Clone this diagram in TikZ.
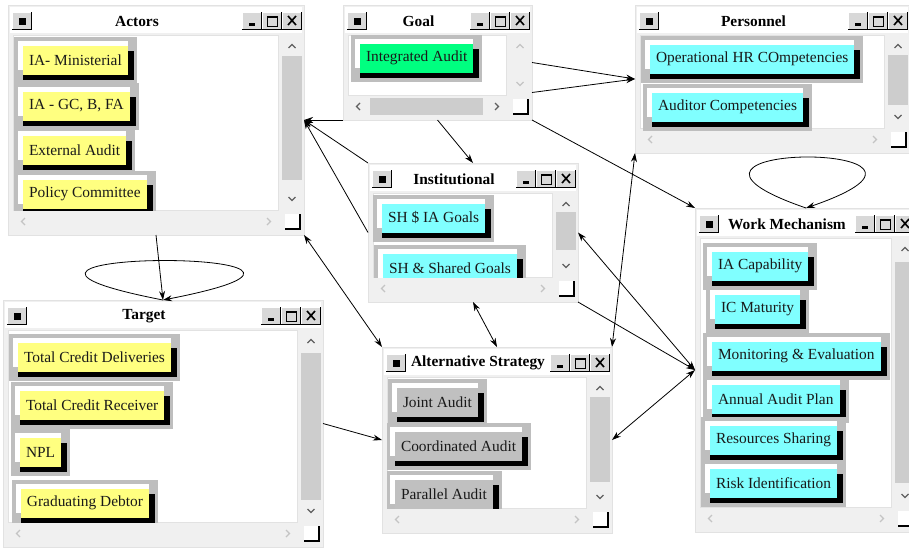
\documentclass[tikz,border=0pt]{standalone}
\usepackage{fontspec}
\setmainfont{Liberation Serif}
\usetikzlibrary{arrows.meta,calc}
\definecolor{btnyellow}{HTML}{FFFF80}
\definecolor{btncyan}{HTML}{80FFFF}
\definecolor{btngreen}{HTML}{00FF80}
\definecolor{btngray}{HTML}{C0C0C0}
\definecolor{btnframe}{HTML}{BEBEBE}
\definecolor{wingray}{HTML}{F0F0F0}
\definecolor{winedge}{HTML}{E2E2E2}
\definecolor{tbface}{HTML}{D8D8D8}
\definecolor{thumbgray}{HTML}{CDCDCD}
\definecolor{arrowdark}{HTML}{606060}
\definecolor{arrowlight}{HTML}{C4C4C4}
\newcommand{\btnfont}{\fontsize{15.4}{18}\selectfont}
\tikzset{>={Stealth[length=9pt,width=6pt]},
	winframe/.style={% outer frame of a window
		fill=wingray, draw=winedge,
		inner sep=0pt, outer sep=0pt
	},
	wintitle/.style={font=\btnfont\bfseries, inner sep=0pt},
	btn/.style={% raised button inside a window
		fill=#1, font=\btnfont, text=black!90,
		inner xsep=6pt, inner ysep=0pt,
		minimum height=29pt, anchor=west, outer sep=0pt,
		preaction={draw=btnframe, line width=18pt},
		preaction={fill=white, transform canvas={shift={(-5pt,5pt)}}},
		preaction={fill=white, transform canvas={shift={(0pt,5pt)}}},
		preaction={fill=black, transform canvas={shift={(6pt,-5pt)}}},
		preaction={fill=black, transform canvas={shift={(0pt,-5pt)}}}
	},
	link/.style={line width=0.8pt}
}
% small raised box: x0, y0, x1, y1
\newcommand{\raisedbox}[4]{%
	\fill[tbface] (#1,#2) rectangle (#3,#4);
	\draw[white, line width=1pt] (#1+0.5,#4) -- (#1+0.5,#2+0.5) -- (#3,#2+0.5);
	\draw[black, line width=1.5pt] (#1,#4-0.75) -- (#3-0.75,#4-0.75) -- (#3-0.75,#2);
}
% window: name, left, top, right, bottom, title, v-arrow colour, h-arrow colour
\newcommand{\appwindow}[8]{%
	\node[winframe, minimum width={(#4-#2)*1pt}, minimum height={(#5-#3)*1pt}] (#1) at ({(#2+#4)/2},{(#3+#5)/2}) {};
	\fill[white] (#2+2,#3+2) rectangle (#4-2,#3+28);
	\raisedbox{#2+4}{#3+7}{#2+24}{#3+25}
	\fill[black] (#2+10.5,#3+12.5) rectangle (#2+17.5,#3+19.5);
	\node[wintitle] (#1-title) at ({(#2+24+#4-62)/2},#3+16) {#6};
	\raisedbox{#4-62}{#3+7}{#4-42}{#3+25}
	\raisedbox{#4-42}{#3+7}{#4-22}{#3+25}
	\raisedbox{#4-22}{#3+7}{#4-2}{#3+25}
	\fill[black] (#4-55,#3+18) rectangle (#4-49,#3+20.5);
	\draw[black, line width=1pt] (#4-37,#3+11) rectangle (#4-27,#3+21);
	\draw[black, line width=2pt] (#4-37,#3+11.5) -- (#4-27,#3+11.5);
	\draw[black, line width=1.6pt] (#4-16,#3+11) -- (#4-8,#3+20) (#4-8,#3+11) -- (#4-16,#3+20);
	% content and scroll bars
	\fill[white, draw=winedge] (#2+5,#3+30) rectangle (#4-26,#5-25);
	\fill[wingray] (#4-22,#3+30) rectangle (#4-2,#5-25);
	\fill[wingray] (#2+5,#5-22) rectangle (#4-26,#5-5);
	\draw[#7, line width=1.2pt] (#4-15.5,#3+43) -- (#4-12,#3+39.5) -- (#4-8.5,#3+43);
	\draw[#7, line width=1.2pt] (#4-15.5,#5-38) -- (#4-12,#5-34.5) -- (#4-8.5,#5-38);
	\draw[#8, line width=1.2pt] (#2+17,#5-17) -- (#2+13.5,#5-13.5) -- (#2+17,#5-10);
	\draw[#8, line width=1.2pt] (#4-37,#5-17) -- (#4-33.5,#5-13.5) -- (#4-37,#5-10);
	\fill[white] (#4-19,#5-21) rectangle (#4-4,#5-6);
	\draw[black, line width=1.2pt] (#4-19,#5-6) -- (#4-4,#5-6) -- (#4-4,#5-21);
}

\begin{document}
\begin{tikzpicture}[x=1pt, y=-1pt]
	\fill[white] (0,0) rectangle (909,547);
	\useasboundingbox (0,0) rectangle (909,547);
	% windows
	\appwindow{actors}{8}{5}{304}{235}{Actors}{arrowdark}{arrowlight}
	\appwindow{goal}{343}{5}{532}{120}{Goal}{arrowlight}{arrowdark}
	\appwindow{personnel}{635}{5}{910}{153}{Personnel}{arrowdark}{arrowlight}
	\appwindow{inst}{368}{163}{578}{302}{Institutional}{arrowdark}{arrowlight}
	\appwindow{mech}{695}{208}{917}{532}{Work Mechanism}{arrowdark}{arrowlight}
	\appwindow{target}{3}{300}{323}{547}{Target}{arrowdark}{arrowlight}
	\appwindow{strategy}{382}{347}{612}{533}{Alternative Strategy}{arrowdark}{arrowlight}
	% scroll thumbs
	\fill[thumbgray] (282,56) rectangle (302,180);
	\fill[thumbgray] (370,98) rectangle (483,115);
	\fill[thumbgray] (888,55) rectangle (908,105);
	\fill[thumbgray] (556,212) rectangle (576,250);
	\fill[thumbgray] (895,262) rectangle (915,483);
	\fill[thumbgray] (301,353) rectangle (321,500);
	\fill[thumbgray] (590,397) rectangle (610,482);
	% buttons
	\begin{scope}
		\clip (13,35) rectangle (278,210);
		\node[btn=btnyellow] (ministerial) at (23,60.5) {IA- Ministerial};
		\node[btn=btnyellow] (gcbfa) at (23,106) {IA - GC, B, FA};
		\node[btn=btnyellow] (external) at (23,150) {External Audit};
		\node[btn=btnyellow] (policy) at (23,194) {Policy Committee};
	\end{scope}
	\node[btn=btngreen] (integrated) at (360,58) {Integrated Audit};
	\node[btn=btncyan] (operational) at (650,59) {Operational HR COmpetencies};
	\node[btn=btncyan] (auditor) at (652,107) {Auditor Competencies};
	\begin{scope}
		\clip (373,193) rectangle (552,277);
		\node[btn=btncyan] (iagoals) at (382,218) {SH \$ IA Goals};
		\node[btn=btncyan] (shared) at (383,268) {SH \& Shared Goals};
	\end{scope}
	\begin{scope}
		\clip (700,238) rectangle (891,507);
		\node[btn=btncyan] (capability) at (712,266) {IA Capability};
		\node[btn=btncyan] (maturity) at (715,309) {IC Maturity};
		\node[btn=btncyan] (monitoring) at (712,356) {Monitoring \& Evaluation};
		\node[btn=btncyan] (annual) at (712,399) {Annual Audit Plan};
		\node[btn=btncyan] (sharing) at (710,440) {Resources Sharing};
		\node[btn=btncyan] (risk) at (710,483) {Risk Identification};
	\end{scope}
	\begin{scope}
		\clip (8,330) rectangle (297,522);
		\node[btn=btnyellow] (deliveries) at (18,357) {Total Credit Deliveries};
		\node[btn=btnyellow] (receiver) at (20,405) {Total Credit Receiver};
		\node[btn=btnyellow] (npl) at (20,452) {NPL};
		\node[btn=btnyellow] (debtor) at (21,503) {Graduating Debtor};
	\end{scope}
	\begin{scope}
		\clip (387,377) rectangle (586,508);
		\node[btn=btngray] (joint) at (397,402) {Joint Audit};
		\node[btn=btngray] (coordinated) at (395,446) {Coordinated Audit};
		\node[btn=btngray] (parallel) at (395,494) {Parallel Audit};
	\end{scope}
	% links
	\draw [link] (goal.east) edge [->] (personnel.west);
	\draw [link] ([yshift=-30pt]goal.east) edge [->] (personnel.west);
	\draw [link] (goal.south east) edge [->] (mech.north west);
	\draw [link] (goal.south) edge [->] (inst.north);
	\draw [link] (goal.south west) edge [->] (actors.east);
	\draw [link] (inst.north west) edge [->] (actors.east);
	\draw [link] (inst.west) edge [->] (actors.east);
	\draw [link] (actors.south east) edge [<->] (strategy.north west);
	\draw [link] (actors.south) edge [->] (target.north);
	\draw [link] (target.north) edge [->, out=169, in=11, min distance=275pt] (target.north);
	\draw [link] (target.east) edge [->] (strategy.west);
	\draw [link] (inst.south) edge [<->] (strategy.north);
	\draw [link] (inst.east) edge [<->] (mech.west);
	\draw [link] (inst.south east) edge [->] (mech.west);
	\draw [link] (strategy.east) edge [<->] (mech.west);
	\draw [link] (strategy.north east) edge [<->] (personnel.south west);
	\draw [link] (mech.north) edge [->, out=161, in=19, min distance=208pt] (mech.north);
\end{tikzpicture}
\end{document}
